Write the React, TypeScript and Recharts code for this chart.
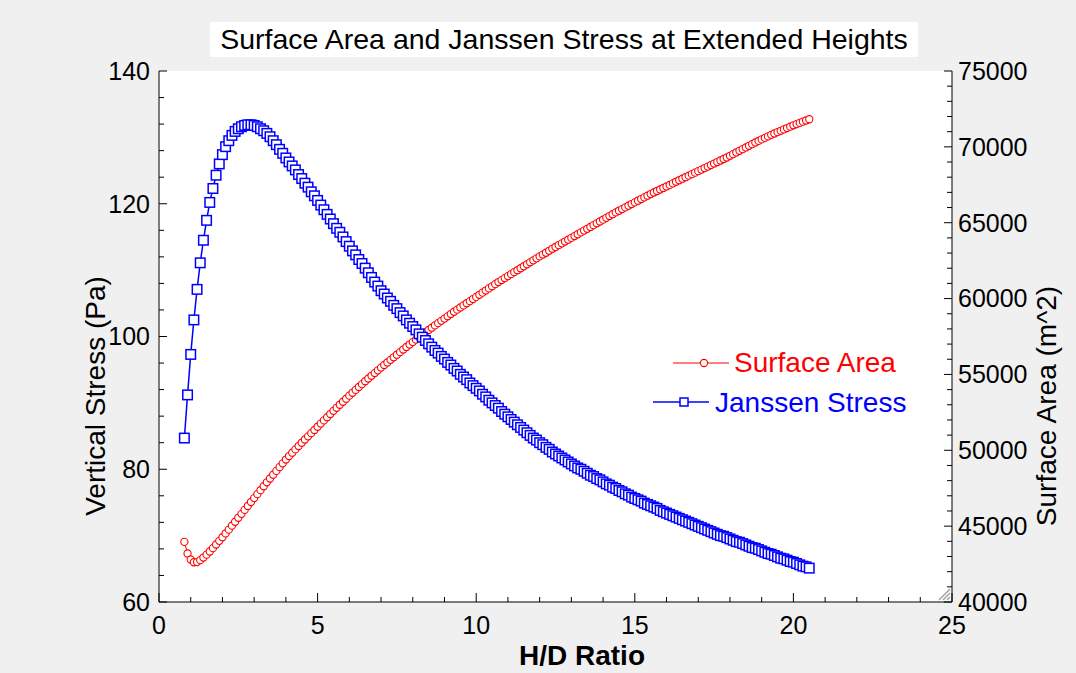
import React from 'react';
import { LineChart, Line, XAxis, YAxis, CartesianGrid } from 'recharts';

// H/D ratio of each computed silo shape
const hdRatio = [
  0.8, 0.9, 1.0, 1.1, 1.2, 1.3, 1.4, 1.5, 1.6, 1.7,
  1.8, 1.9, 2.0, 2.1, 2.2, 2.3, 2.4, 2.5, 2.6, 2.7,
  2.8, 2.9, 3.0, 3.1, 3.2, 3.3, 3.4, 3.5, 3.6, 3.7,
  3.8, 3.9, 4.0, 4.1, 4.2, 4.3, 4.4, 4.5, 4.6, 4.7,
  4.8, 4.9, 5.0, 5.1, 5.2, 5.3, 5.4, 5.5, 5.6, 5.7,
  5.8, 5.9, 6.0, 6.1, 6.2, 6.3, 6.4, 6.5, 6.6, 6.7,
  6.8, 6.9, 7.0, 7.1, 7.2, 7.3, 7.4, 7.5, 7.6, 7.7,
  7.8, 7.9, 8.0, 8.1, 8.2, 8.3, 8.4, 8.5, 8.6, 8.7,
  8.8, 8.9, 9.0, 9.1, 9.2, 9.3, 9.4, 9.5, 9.6, 9.7,
  9.8, 9.9, 10.0, 10.1, 10.2, 10.3, 10.4, 10.5, 10.6, 10.7,
  10.8, 10.9, 11.0, 11.1, 11.2, 11.3, 11.4, 11.5, 11.6, 11.7,
  11.8, 11.9, 12.0, 12.1, 12.2, 12.3, 12.4, 12.5, 12.6, 12.7,
  12.8, 12.9, 13.0, 13.1, 13.2, 13.3, 13.4, 13.5, 13.6, 13.7,
  13.8, 13.9, 14.0, 14.1, 14.2, 14.3, 14.4, 14.5, 14.6, 14.7,
  14.8, 14.9, 15.0, 15.1, 15.2, 15.3, 15.4, 15.5, 15.6, 15.7,
  15.8, 15.9, 16.0, 16.1, 16.2, 16.3, 16.4, 16.5, 16.6, 16.7,
  16.8, 16.9, 17.0, 17.1, 17.2, 17.3, 17.4, 17.5, 17.6, 17.7,
  17.8, 17.9, 18.0, 18.1, 18.2, 18.3, 18.4, 18.5, 18.6, 18.7,
  18.8, 18.9, 19.0, 19.1, 19.2, 19.3, 19.4, 19.5, 19.6, 19.7,
  19.8, 19.9, 20.0, 20.1, 20.2, 20.3, 20.4, 20.5,
];

// Janssen vertical stress at the bottom (Pa)
const janssenStress = [
  84.7, 91.2, 97.3, 102.5, 107.1, 111.1, 114.5, 117.5, 120.2, 122.3,
  124.3, 126.0, 127.4, 128.6, 129.5, 130.3, 130.9, 131.3, 131.6, 131.8,
  131.9, 131.9, 131.8, 131.6, 131.3, 131.0, 130.6, 130.1, 129.5, 128.9,
  128.2, 127.6, 126.9, 126.3, 125.7, 125.1, 124.4, 123.8, 123.1, 122.5,
  121.8, 121.2, 120.5, 119.8, 119.1, 118.4, 117.7, 117.0, 116.3, 115.7,
  115.0, 114.3, 113.6, 112.9, 112.3, 111.6, 111.0, 110.3, 109.6, 108.9,
  108.2, 107.6, 106.9, 106.4, 105.8, 105.3, 104.7, 104.2, 103.6, 103.1,
  102.5, 102.0, 101.5, 101.0, 100.4, 99.9, 99.4, 98.9, 98.4, 97.9,
  97.5, 97.0, 96.6, 96.1, 95.7, 95.2, 94.8, 94.3, 93.9, 93.5,
  93.0, 92.6, 92.2, 91.8, 91.3, 90.9, 90.4, 90.0, 89.6, 89.2,
  88.7, 88.3, 87.9, 87.5, 87.1, 86.7, 86.3, 85.9, 85.5, 85.1,
  84.7, 84.4, 84.0, 83.7, 83.3, 83.0, 82.6, 82.3, 82.0, 81.7,
  81.4, 81.1, 80.8, 80.5, 80.2, 80.0, 79.7, 79.4, 79.1, 78.9,
  78.6, 78.4, 78.1, 77.8, 77.6, 77.3, 77.1, 76.8, 76.6, 76.3,
  76.1, 75.8, 75.6, 75.4, 75.2, 74.9, 74.7, 74.5, 74.3, 74.1,
  73.8, 73.6, 73.4, 73.2, 73.0, 72.8, 72.6, 72.4, 72.2, 72.0,
  71.8, 71.6, 71.4, 71.2, 71.0, 70.8, 70.6, 70.4, 70.2, 70.0,
  69.9, 69.7, 69.5, 69.3, 69.1, 69.0, 68.8, 68.6, 68.4, 68.2,
  68.1, 67.9, 67.7, 67.5, 67.3, 67.2, 67.0, 66.8, 66.6, 66.5,
  66.3, 66.1, 66.0, 65.8, 65.6, 65.4, 65.3, 65.1,
];

// total surface area (m^2)
const surfaceArea = [
  43960, 43200, 42800, 42620, 42630, 42760, 42930, 43120, 43330, 43550,
  43790, 44030, 44270, 44520, 44770, 45030, 45290, 45550, 45810, 46070,
  46330, 46590, 46850, 47110, 47370, 47630, 47890, 48140, 48390, 48640,
  48890, 49140, 49390, 49620, 49840, 50060, 50280, 50500, 50710, 50920,
  51130, 51340, 51550, 51760, 51970, 52180, 52390, 52600, 52800, 53000,
  53200, 53400, 53600, 53790, 53980, 54170, 54360, 54550, 54730, 54910,
  55090, 55270, 55450, 55620, 55790, 55960, 56130, 56300, 56470, 56640,
  56810, 56970, 57130, 57290, 57450, 57610, 57770, 57930, 58080, 58230,
  58380, 58530, 58680, 58830, 58980, 59130, 59270, 59410, 59550, 59690,
  59830, 59970, 60110, 60250, 60390, 60530, 60670, 60810, 60950, 61090,
  61220, 61350, 61480, 61610, 61740, 61870, 62000, 62130, 62260, 62390,
  62520, 62650, 62780, 62900, 63020, 63150, 63280, 63400, 63520, 63640,
  63760, 63880, 64000, 64120, 64240, 64360, 64480, 64600, 64720, 64840,
  64960, 65080, 65200, 65320, 65440, 65560, 65680, 65790, 65900, 66010,
  66120, 66230, 66340, 66450, 66560, 66670, 66780, 66890, 66990, 67090,
  67190, 67290, 67390, 67490, 67590, 67700, 67800, 67900, 68000, 68100,
  68200, 68300, 68400, 68500, 68600, 68700, 68800, 68900, 69000, 69100,
  69200, 69300, 69410, 69520, 69630, 69740, 69850, 69960, 70070, 70180,
  70290, 70390, 70490, 70590, 70690, 70790, 70880, 70970, 71060, 71150,
  71240, 71330, 71420, 71500, 71580, 71660, 71740, 71820,
];

const xTicks = [0, 1, 2, 3, 4, 5, 6, 7, 8, 9, 10, 11, 12, 13, 14, 15, 16, 17, 18, 19, 20, 21, 22, 23, 24, 25];
const stressTicks = [60, 64, 68, 72, 76, 80, 84, 88, 92, 96, 100, 104, 108, 112, 116, 120, 124, 128, 132, 136, 140];
const areaTicks = [
  40000, 41000, 42000, 43000, 44000, 45000, 46000, 47000, 48000, 49000, 50000, 51000,
  52000, 53000, 54000, 55000, 56000, 57000, 58000, 59000, 60000, 61000, 62000, 63000,
  64000, 65000, 66000, 67000, 68000, 69000, 70000, 71000, 72000, 73000, 74000, 75000,
];

const data = hdRatio.map((hd, i) => ({ hd, stress: janssenStress[i], area: surfaceArea[i] }));

const FONT = "'Liberation Sans', Arial, Helvetica, sans-serif";
const TICK_FONT = 25;

const BottomTick = (props: any) => {
  const { x, y, payload } = props;
  const axisY = y - 14;
  const major = payload.value % 5 === 0;
  return (
    <g>
      <line x1={x} x2={x} y1={axisY} y2={axisY - (major ? 9 : 5)} stroke="#000" strokeWidth={1} />
      {major && (
        <text x={x} y={y} dy="0.71em" textAnchor="middle" fontSize={TICK_FONT} fontFamily={FONT} fill="#000">
          {payload.value}
        </text>
      )}
    </g>
  );
};

const TopTick = (props: any) => {
  const { x, y, payload } = props;
  const major = payload.value % 5 === 0;
  return <line x1={x} x2={x} y1={y} y2={y + (major ? 9 : 5)} stroke="#000" strokeWidth={1} />;
};

const LeftTick = (props: any) => {
  const { x, y, payload } = props;
  const axisX = x + 9;
  const major = payload.value % 20 === 0;
  return (
    <g>
      <line x1={axisX} x2={axisX + (major ? 8 : 5)} y1={y} y2={y} stroke="#000" strokeWidth={1} />
      {major && (
        <text x={x} y={y} dy="0.355em" textAnchor="end" fontSize={TICK_FONT} fontFamily={FONT} fill="#000">
          {payload.value}
        </text>
      )}
    </g>
  );
};

const RightTick = (props: any) => {
  const { x, y, payload } = props;
  const axisX = x - 6;
  const major = payload.value % 5000 === 0;
  return (
    <g>
      <line x1={axisX} x2={axisX - (major ? 8 : 5)} y1={y} y2={y} stroke="#000" strokeWidth={1} />
      {major && (
        <text x={x} y={y} dy="0.355em" textAnchor="start" fontSize={TICK_FONT} fontFamily={FONT} fill="#000">
          {payload.value}
        </text>
      )}
    </g>
  );
};

const SquareDot = (props: any) => {
  const { cx, cy, index } = props;
  if (cx == null || cy == null) return null;
  return (
    <rect key={`sq-${index}`} x={cx - 4.75} y={cy - 4.75} width={9.5} height={9.5}
      fill="#ffffff" stroke="#0000ff" strokeWidth={1.5} />
  );
};

const CircleDot = (props: any) => {
  const { cx, cy, index } = props;
  if (cx == null || cy == null) return null;
  return <circle key={`ci-${index}`} cx={cx} cy={cy} r={3.6} fill="#ffffff" stroke="#ff0000" strokeWidth={1.1} />;
};

export default function App() {
  return (
    <div style={{ position: 'fixed', left: 0, top: 0, width: 1076, height: 673, background: '#f0f0f0', fontFamily: FONT }}>
      <LineChart width={1076} height={673} data={data} margin={{ top: 71, right: 0, bottom: 0, left: 0 }}>
        <CartesianGrid xAxisId="x" yAxisId="left" horizontal={false} vertical={false} fill="#ffffff" />
        <XAxis xAxisId="x" dataKey="hd" type="number" domain={[0, 25]} ticks={xTicks} interval={0}
          allowDataOverflow height={71} tickSize={0} tickMargin={14} tickLine={false}
          axisLine={{ stroke: '#000' }} tick={<BottomTick />} />
        <XAxis xAxisId="top" orientation="top" dataKey="hd" type="number" domain={[0, 25]} ticks={xTicks}
          interval={0} allowDataOverflow height={0} tickSize={0} tickMargin={0} tickLine={false}
          axisLine={{ stroke: '#000' }} tick={<TopTick />} />
        <YAxis yAxisId="left" orientation="left" type="number" domain={[60, 140]} ticks={stressTicks}
          interval={0} allowDataOverflow width={159} tickSize={0} tickMargin={9} tickLine={false}
          axisLine={{ stroke: '#000' }} tick={<LeftTick />} />
        <YAxis yAxisId="right" orientation="right" type="number" domain={[40000, 75000]} ticks={areaTicks}
          interval={0} allowDataOverflow width={124} tickSize={0} tickMargin={6} tickLine={false}
          axisLine={{ stroke: '#000' }} tick={<RightTick />} />
        <Line xAxisId="x" yAxisId="right" type="linear" dataKey="area" name="Surface Area"
          stroke="#ff0000" strokeWidth={1} dot={<CircleDot />} isAnimationActive={false} />
        <Line xAxisId="x" yAxisId="left" type="linear" dataKey="stress" name="Janssen Stress"
          stroke="#0000ff" strokeWidth={1.5} dot={<SquareDot />} isAnimationActive={false} />
      </LineChart>

      <div style={{
        position: 'absolute', left: 210, top: 22, width: 708, height: 35, background: '#ffffff',
        textAlign: 'center', fontSize: 28.5, lineHeight: '35px', color: '#000',
      }}>
        Surface Area and Janssen Stress at Extended Heights
      </div>

      <svg width={1076} height={673} style={{ position: 'absolute', left: 0, top: 0, pointerEvents: 'none' }}>
        <text x={95} y={396} transform="rotate(-90 95 396)" textAnchor="middle" dy="0.355em"
          fontSize={28} fontFamily={FONT} fill="#000">Vertical Stress (Pa)</text>
        <text x={1046} y={406} transform="rotate(-90 1046 406)" textAnchor="middle" dy="0.355em"
          fontSize={28} fontFamily={FONT} fill="#000">Surface Area (m^2)</text>
        <text x={582} y={665} textAnchor="middle" fontSize={28} fontWeight="bold" fontFamily={FONT} fill="#000">
          H/D Ratio
        </text>

        {/* legend */}
        <line x1={673} x2={729} y1={363} y2={363} stroke="#ff0000" strokeWidth={1} />
        <circle cx={704} cy={363} r={3.6} fill="#ffffff" stroke="#ff0000" strokeWidth={1.1} />
        <text x={734} y={372} fontSize={28} fontFamily={FONT} fill="#ff0000">Surface Area</text>
        <line x1={653} x2={709} y1={402} y2={402} stroke="#0000ff" strokeWidth={1.5} />
        <rect x={680} y={398} width={8} height={8} fill="#ffffff" stroke="#0000ff" strokeWidth={1.5} />
        <text x={715} y={412} fontSize={28} fontFamily={FONT} fill="#0000ff">Janssen Stress</text>

        {/* window resize grip */}
        <line x1={950} y1={589} x2={939} y2={600} stroke="#a0a0a0" strokeWidth={1.5} />
        <line x1={950} y1={593} x2={943} y2={600} stroke="#a0a0a0" strokeWidth={1.5} />
        <line x1={950} y1={597} x2={947} y2={600} stroke="#a0a0a0" strokeWidth={1.5} />
      </svg>
    </div>
  );
}
